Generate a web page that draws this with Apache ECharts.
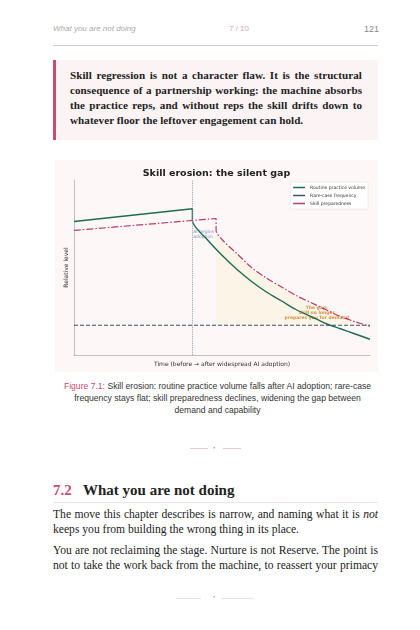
<!DOCTYPE html>
<html><head><meta charset="utf-8">
<script src="https://cdn.jsdelivr.net/npm/echarts@6/dist/echarts.min.js"></script>
<style>
body{margin:0;width:420px;height:630px;background:#fff;position:relative;overflow:hidden;font-family:"Liberation Serif",serif;color:#222}
.abs{position:absolute}
.hdr{font-family:"Liberation Sans",sans-serif;font-size:8px;top:24px}
</style></head><body>
<div class="abs hdr" style="left:53px;color:#aaa;font-style:italic">What you are not doing</div>
<div class="abs hdr" style="left:229px;color:#e3a0b5">7 / 10</div>
<div class="abs hdr" style="left:364px;color:#888;font-size:9px">121</div>
<div class="abs" style="left:53px;top:45px;width:325px;height:1px;background:#ccc"></div>
<div class="abs" style="left:53px;top:60px;width:325px;height:80px;background:#fcf3f5;border-left:3px solid #c64d74;box-sizing:border-box;padding:8px 16px 0 14px;font-weight:bold;font-size:11.1px;line-height:15px;text-align:justify;letter-spacing:0.05px">Skill regression is not a character flaw. It is the structural consequence of a partnership working: the machine absorbs the practice reps, and without reps the skill drifts down to whatever floor the leftover engagement can hold.</div>
<div id="c" class="abs" style="left:55px;top:160px;width:323px;height:212px"></div>
<div class="abs" style="left:60px;top:380px;width:315px;text-align:center;font-family:'Liberation Sans',sans-serif;font-size:8.6px;line-height:12px;color:#333"><span style="color:#c64d74">Figure 7.1:</span> Skill erosion: routine practice volume falls after AI adoption; rare-case frequency stays flat; skill preparedness declines, widening the gap between demand and capability</div>
<div class="abs" style="left:190px;top:448px;width:18px;height:1px;background:#f0c7d3"></div>
<div class="abs" style="left:223px;top:448px;width:18px;height:1px;background:#f0c7d3"></div>
<div class="abs" style="left:213px;top:444px;font-size:7px;color:#d0809a">•</div>
<div class="abs" style="left:53px;top:482px;font-size:15px;font-weight:bold"><span style="color:#c64d74">7.2</span>&nbsp;&nbsp;&nbsp;What you are not doing</div>
<div class="abs" style="left:53px;top:502px;width:325px;height:1px;background:#f5e1e7"></div>
<div class="abs" style="left:53px;top:507px;width:325px;font-size:11.6px;line-height:15px;text-align:justify">The move this chapter describes is narrow, and naming what it is <i>not</i> keeps you from building the wrong thing in its place.</div>
<div class="abs" style="left:53px;top:543px;width:325px;font-size:11.6px;line-height:15px;text-align:justify;text-align-last:justify">You are not reclaiming the stage. Nurture is not Reserve. The point is not to take the work back from the machine, to reassert your primacy</div>
<div class="abs" style="left:176px;top:598px;width:25px;height:1px;background:#f0e0e5"></div>
<div class="abs" style="left:222px;top:598px;width:32px;height:1px;background:#f0e0e5"></div>
<div class="abs" style="left:213px;top:594px;font-size:6px;color:#d0809a">•</div>
<script>
const routineX=[0,40,40,45,50,55,60,65,70,75,80,85,90,95,100];
const routineY=[0.763,0.836,0.768,0.66,0.57,0.49,0.42,0.36,0.31,0.26,0.22,0.18,0.15,0.12,0.09];
const rareX=[0,100];
const rareY=[0.17,0.17];
const prepX=[0,48,48,50,55,60,65,70,75,80,85,90,95,100];
const prepY=[0.712,0.78,0.712,0.66,0.58,0.50,0.44,0.39,0.34,0.30,0.26,0.22,0.19,0.164];
const adoptionX=40;
const zip=(a,b)=>a.map((x,i)=>[x,b[i]]);
const ch=echarts.init(document.getElementById('c'));
const sans='DejaVu Sans';
ch.setOption({
 backgroundColor:'#fdf7f8',animation:false,
 title:{text:'Skill erosion: the silent gap',left:'center',top:4,textStyle:{fontFamily:sans,fontSize:9.5,fontWeight:'bold',color:'#222'}},
 legend:{top:22,right:10,orient:'vertical',icon:'rect',itemWidth:12,itemHeight:1.5,itemGap:3,backgroundColor:'#fff',borderColor:'#ddd',borderWidth:0.5,padding:3,
   textStyle:{fontFamily:sans,fontSize:4.5,color:'#333'},data:['Routine practice volume','Rare-case frequency','Skill preparedness']},
 grid:{left:15,right:8,top:20,bottom:15},
 xAxis:{type:'value',min:0,max:100,axisLabel:{show:false},axisTick:{show:false},splitLine:{show:false},
   axisLine:{lineStyle:{color:'#999',width:0.6}},name:'Time (before → after widespread AI adoption)',nameLocation:'middle',nameGap:6,
   nameTextStyle:{fontFamily:sans,fontSize:6,color:'#333'}},
 yAxis:{type:'value',min:0,max:1,axisLabel:{show:false},axisTick:{show:false},splitLine:{show:false},
   axisLine:{show:true,lineStyle:{color:'#999',width:0.6}},name:'Relative level',nameLocation:'middle',nameGap:5,
   nameTextStyle:{fontFamily:sans,fontSize:6,color:'#333'}},
 series:[
  {name:'gapfill',type:'line',data:zip(prepX.slice(2),prepY.slice(2)),smooth:0.3,symbol:'none',lineStyle:{width:0},
   areaStyle:{origin:0.17,color:'#fdf4e8',opacity:1},silent:true,z:1},
  {name:'Routine practice volume',type:'line',data:zip(routineX,routineY),smooth:0.3,symbol:'none',color:'#1f6b52',lineStyle:{width:1.4},z:3,
   markLine:{symbol:'none',silent:true,label:{show:false},lineStyle:{color:'#8899aa',type:'dotted',width:0.9},data:[{xAxis:adoptionX}]}},
  {name:'Rare-case frequency',type:'line',data:zip(rareX,rareY),symbol:'none',color:'#3b5070',lineStyle:{width:1.1,type:[4,2]},z:3},
  {name:'Skill preparedness',type:'line',data:zip(prepX,prepY),smooth:0.3,symbol:'none',color:'#b63d6b',lineStyle:{width:1.2,type:[7,2,1.5,2]},z:3},
  {name:'notes',type:'scatter',symbolSize:0,silent:true,data:[
    {value:[40.3,0.69],label:{show:true,formatter:'AI begins\nadoption',position:'right',distance:0,align:'left',color:'#6a7fa0',fontSize:4.5,fontFamily:sans,lineHeight:5}},
    {value:[82,0.24],label:{show:true,formatter:'The gap:\nskill no longer\nprepares you for demand',position:'inside',color:'#c87a20',fontWeight:'bold',fontSize:4.5,fontFamily:sans,lineHeight:5}}
  ]}
 ]
});
</script>
</body></html>
